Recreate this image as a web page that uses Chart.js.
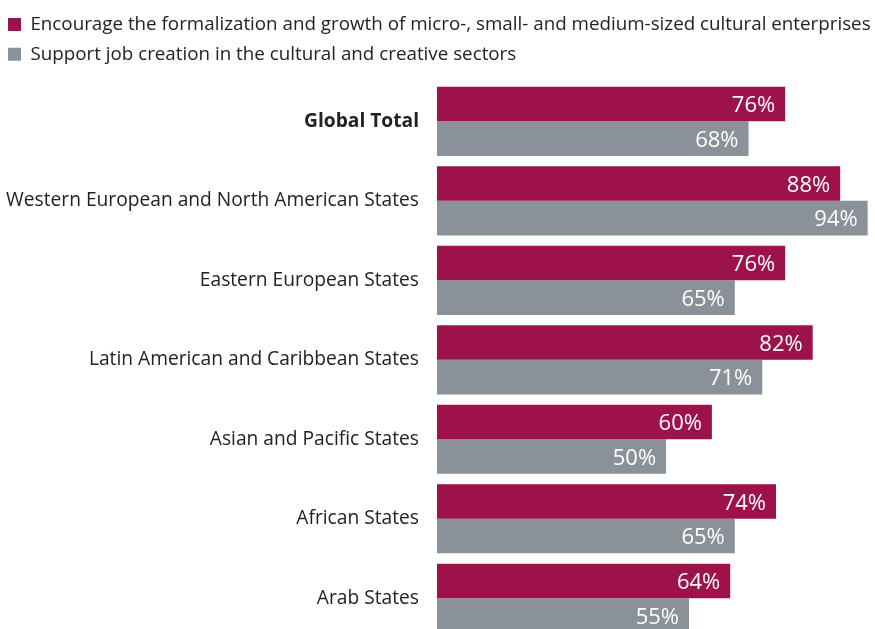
<!DOCTYPE html>
<html><head><meta charset="utf-8">
<script src="https://cdn.jsdelivr.net/npm/chart.js@4"></script>
<style>
html,body{margin:0;padding:0;overflow:hidden;background:#fff;}
canvas{display:block;}
</style></head>
<body><canvas id="c" width="875" height="638"></canvas>
<script>
const categories = ["Global Total","Western European and North American States","Eastern European States","Latin American and Caribbean States","Asian and Pacific States","African States","Arab States"];
const seriesNames = ["Encourage the formalization and growth of micro-, small- and medium-sized cultural enterprises","Support job creation in the cultural and creative sectors"];
const encourageValues = [76,88,76,82,60,74,64];
const supportValues = [68,94,65,71,50,65,55];

const FONT = "'Open Sans', sans-serif";
const labelPlugin = {
  id:'valLabels',
  afterDatasetsDraw(chart){
    const ctx = chart.ctx;
    ctx.save();
    ctx.fillStyle = '#fff';
    ctx.font = '22px ' + FONT;
    ctx.textAlign = 'right';
    ctx.textBaseline = 'middle';
    chart.data.datasets.forEach((ds,di)=>{
      chart.getDatasetMeta(di).data.forEach((el,i)=>{
        ctx.fillText(ds.data[i] + '%', el.x - 10, el.y + 2);
      });
    });
    ctx.restore();
  }
};

const chart = new Chart(document.getElementById('c'), {
  type:'bar',
  data:{
    labels:categories,
    datasets:[
      {label:seriesNames[0], data:encourageValues, backgroundColor:'#9E124C', borderWidth:0},
      {label:seriesNames[1], data:supportValues, backgroundColor:'#8B9199', borderWidth:0}
    ]
  },
  options:{
    indexAxis:'y',
    responsive:false,
    animation:false,
    categoryPercentage:0.87,
    barPercentage:1.0,
    layout:{padding:{left:-3,right:0,top:4,bottom:0}},
    plugins:{
      legend:{
        position:'top',
        align:'start',
        labels:{
          boxWidth:13, boxHeight:13, padding:11,
          color:'#222',
          font:{family:FONT,size:18.8}
        }
      },
      tooltip:{enabled:false}
    },
    scales:{
      x:{display:false,min:0,max:95.6},
      y:{
        grid:{display:false},
        border:{display:false},
        afterFit(s){ s.width = 440; s.paddingTop = 0; s.paddingBottom = 0; },
        ticks:{
          color:'#222',
          padding:10,
          font:(c)=>({family:FONT,size:19.2,weight:c.index===0?'bold':'normal'})
        }
      }
    }
  },
  plugins:[labelPlugin]
});
const origFit = chart.legend.fit;
chart.legend.fit = function(){ origFit.call(this); this.height += 8; };
chart.update();
</script></body></html>
